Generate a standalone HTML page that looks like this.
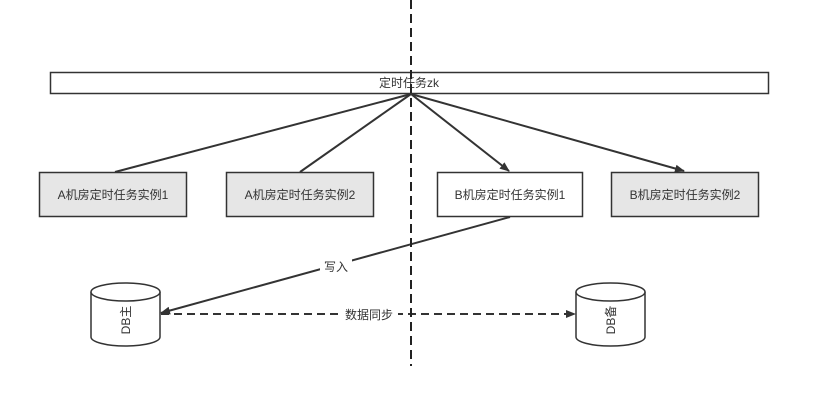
<!DOCTYPE html>
<html><head><meta charset="utf-8"><style>
body{margin:0;background:#fff;width:840px;height:400px;overflow:hidden}
svg text{font-family:"Liberation Sans","Noto Sans CJK SC",sans-serif;font-size:12px;fill:#333}
</style></head><body>
<svg width="840" height="400" xmlns="http://www.w3.org/2000/svg">
<defs><marker id="a" markerWidth="10" markerHeight="10" refX="9" refY="5" orient="auto" markerUnits="userSpaceOnUse"><path d="M0,1 L10,5 L0,9 Z" fill="#333"/></marker></defs>
<rect x="50.5" y="72.5" width="718" height="21" fill="#fff" stroke="#333" stroke-width="1.5"/>
<text x="409" y="87" text-anchor="middle">定时任务zk</text>
<g stroke="#333" stroke-width="2" fill="none">
<line x1="411" y1="94" x2="115" y2="172"/>
<line x1="411" y1="94" x2="300" y2="172"/>
<line x1="411" y1="94" x2="509" y2="171" marker-end="url(#a)"/>
<line x1="411" y1="94" x2="684" y2="171" marker-end="url(#a)"/>
<line x1="510" y1="217" x2="161" y2="313" marker-end="url(#a)"/>
<line x1="161" y1="314" x2="575" y2="314" stroke-dasharray="8,5" marker-end="url(#a)"/>
</g>
<line x1="411" y1="0" x2="411" y2="366" stroke="#222" stroke-width="2" stroke-dasharray="9,5"/>
<g stroke="#333" stroke-width="1.5">
<rect x="39.5" y="172.5" width="147" height="44" fill="#e6e6e6"/>
<rect x="226.5" y="172.5" width="147" height="44" fill="#e6e6e6"/>
<rect x="437.5" y="172.5" width="145" height="44" fill="#fff"/>
<rect x="611.5" y="172.5" width="147" height="44" fill="#e6e6e6"/>
</g>
<text x="113" y="199" text-anchor="middle">A机房定时任务实例1</text>
<text x="300" y="199" text-anchor="middle">A机房定时任务实例2</text>
<text x="510" y="199" text-anchor="middle">B机房定时任务实例1</text>
<text x="685" y="199" text-anchor="middle">B机房定时任务实例2</text>
<rect x="320" y="258" width="32" height="16" fill="#fff"/>
<text x="336" y="271" text-anchor="middle">写入</text>
<rect x="340" y="306" width="58" height="16" fill="#fff"/>
<text x="369" y="319" text-anchor="middle">数据同步</text>
<g stroke="#333" stroke-width="1.5" fill="#fff">
<path d="M91,292 L91,337 A34.5,9 0 0 0 160,337 L160,292"/>
<ellipse cx="125.5" cy="292" rx="34.5" ry="9"/>
<path d="M576,292 L576,337 A34.5,9 0 0 0 645,337 L645,292"/>
<ellipse cx="610.5" cy="292" rx="34.5" ry="9"/>
</g>
<text transform="translate(130,320) rotate(-90)" text-anchor="middle">DB主</text>
<text transform="translate(615,320) rotate(-90)" text-anchor="middle">DB备</text>
</svg>
</body></html>
